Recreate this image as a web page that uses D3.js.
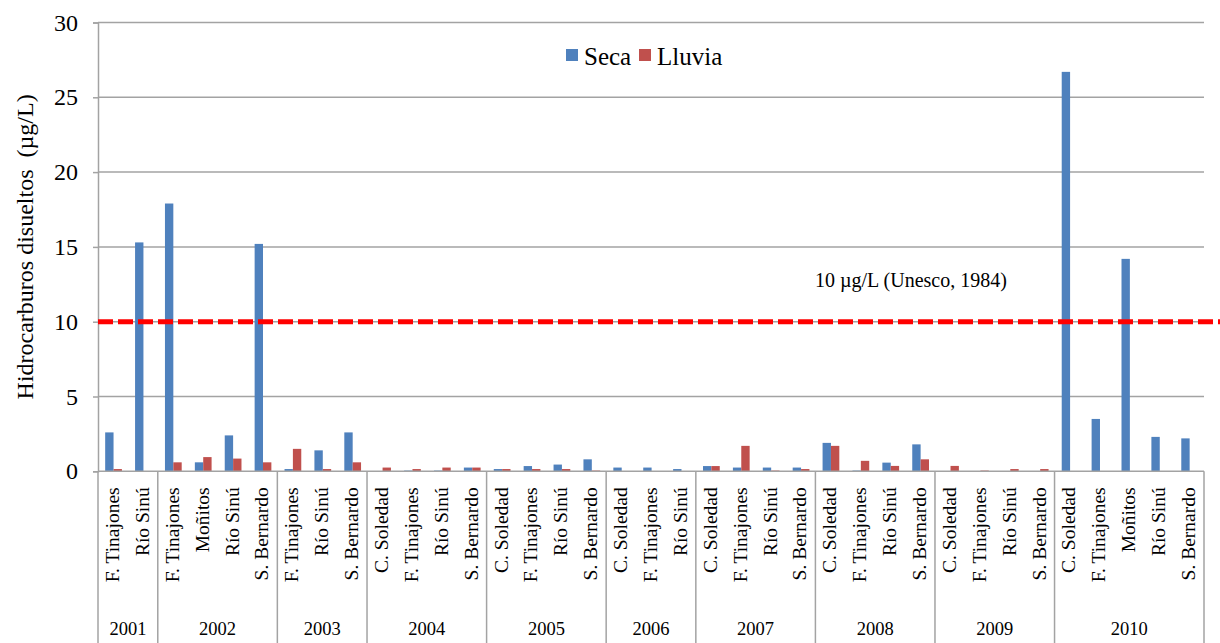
<!DOCTYPE html>
<html>
<head>
<meta charset="utf-8">
<script src="https://cdn.jsdelivr.net/npm/d3@7"></script>
<style>
  html, body { margin: 0; padding: 0; background: #fff; }
  svg text { font-family: "Liberation Serif", "Times New Roman", serif; fill: #000; }
</style>
</head>
<body>
<div id="chart"></div>
<script>
const width = 1220;
const height = 643;

const margin = {top: 22.5, left: 98, right: 16, axisBottom: 471.3};

// one entry per bar group, read left to right
const sites = [
  "F. Tinajones", "Río Sinú",
  "F. Tinajones", "Moñitos", "Río Sinú", "S. Bernardo",
  "F. Tinajones", "Río Sinú", "S. Bernardo",
  "C. Soledad", "F. Tinajones", "Río Sinú", "S. Bernardo",
  "C. Soledad", "F. Tinajones", "Río Sinú", "S. Bernardo",
  "C. Soledad", "F. Tinajones", "Río Sinú",
  "C. Soledad", "F. Tinajones", "Río Sinú", "S. Bernardo",
  "C. Soledad", "F. Tinajones", "Río Sinú", "S. Bernardo",
  "C. Soledad", "F. Tinajones", "Río Sinú", "S. Bernardo",
  "C. Soledad", "F. Tinajones", "Moñitos", "Río Sinú", "S. Bernardo"
];
const siteYears = [
  "2001", "2001",
  "2002", "2002", "2002", "2002",
  "2003", "2003", "2003",
  "2004", "2004", "2004", "2004",
  "2005", "2005", "2005", "2005",
  "2006", "2006", "2006",
  "2007", "2007", "2007", "2007",
  "2008", "2008", "2008", "2008",
  "2009", "2009", "2009", "2009",
  "2010", "2010", "2010", "2010", "2010"
];
const seca = [
  2.6, 15.3,
  17.9, 0.6, 2.4, 15.2,
  0.15, 1.4, 2.6,
  0, 0.05, 0.05, 0.25,
  0.15, 0.35, 0.45, 0.8,
  0.25, 0.25, 0.15,
  0.35, 0.25, 0.25, 0.25,
  1.9, 0.05, 0.58, 1.8,
  0, 0, 0, 0,
  26.7, 3.5, 14.2, 2.3, 2.2
];
const lluvia = [
  0.15, 0,
  0.6, 0.95, 0.85, 0.6,
  1.5, 0.15, 0.6,
  0.25, 0.15, 0.25, 0.25,
  0.15, 0.15, 0.15, 0.05,
  0, 0, 0,
  0.35, 1.7, 0.05, 0.15,
  1.7, 0.7, 0.36, 0.8,
  0.36, 0.05, 0.15, 0.15,
  0, 0, 0, 0, 0
];
const seriesNames = ["Seca", "Lluvia"];
const yTicks = [0, 5, 10, 15, 20, 25, 30];
const limitValue = 10;
const limitLabel = "10 µg/L (Unesco, 1984)";

const colors = {Seca: "#4F81BD", Lluvia: "#C0504D"};
const gridColor = "#a3a3a3";
const serif = '"Liberation Serif", "Times New Roman", serif';

const svg = d3.select("#chart")
  .append("svg")
  .attr("width", width)
  .attr("height", height);

const plotRight = width - margin.right;

const x = d3.scaleBand()
  .domain(d3.range(sites.length))
  .range([margin.left, plotRight])
  .padding(0);

const xInner = d3.scaleBand()
  .domain(seriesNames)
  .range([x.bandwidth() * 0.24, x.bandwidth() * 0.8]);

const y = d3.scaleLinear()
  .domain([0, 30])
  .range([margin.axisBottom, margin.top]);

// gridlines
svg.append("g")
  .selectAll("line")
  .data(yTicks.filter(d => d > 0))
  .enter()
  .append("line")
  .attr("x1", margin.left)
  .attr("x2", plotRight)
  .attr("y1", d => y(d))
  .attr("y2", d => y(d))
  .attr("stroke", gridColor)
  .attr("stroke-width", 1.5);

// y axis
const yAxis = svg.append("g")
  .attr("transform", `translate(${margin.left},0)`)
  .call(d3.axisLeft(y).tickValues(yTicks).tickSize(5).tickPadding(15));
yAxis.attr("font-family", null).attr("font-size", null);
yAxis.select(".domain").attr("stroke", gridColor).attr("stroke-width", 1.5);
yAxis.selectAll(".tick line").attr("stroke", gridColor).attr("stroke-width", 1.5);
yAxis.selectAll(".tick text")
  .style("font-family", serif)
  .style("font-size", "24px")
  .attr("fill", "#000");

// bars
const rows = sites.map((s, i) => ({i, Seca: seca[i], Lluvia: lluvia[i]}));

const group = svg.append("g")
  .selectAll("g")
  .data(rows)
  .enter()
  .append("g")
  .attr("transform", d => `translate(${x(d.i)},0)`);

group.selectAll("rect")
  .data(d => seriesNames.map(k => ({key: k, value: d[k]})))
  .enter()
  .append("rect")
  .attr("x", d => xInner(d.key))
  .attr("width", xInner.bandwidth())
  .attr("y", d => y(d.value))
  .attr("height", d => y(0) - y(d.value))
  .attr("fill", d => colors[d.key]);

// x baseline
svg.append("line")
  .attr("x1", margin.left)
  .attr("x2", plotRight)
  .attr("y1", y(0))
  .attr("y2", y(0))
  .attr("stroke", gridColor)
  .attr("stroke-width", 1.5);

// year separators
const yearList = Array.from(new Set(siteYears));
const yearSpans = yearList.map(yr => {
  const idx = siteYears.map((v, i) => v === yr ? i : -1).filter(i => i >= 0);
  return {year: yr, start: x(idx[0]), end: x(idx[idx.length - 1]) + x.bandwidth()};
});

const bounds = [margin.left].concat(yearSpans.map(d => d.end));
svg.append("g")
  .selectAll("line")
  .data(bounds)
  .enter()
  .append("line")
  .attr("x1", d => d)
  .attr("x2", d => d)
  .attr("y1", y(0))
  .attr("y2", height)
  .attr("stroke", gridColor)
  .attr("stroke-width", 1.5);

// category labels
svg.append("g")
  .selectAll("text")
  .data(sites)
  .enter()
  .append("text")
  .text(d => d)
  .attr("text-anchor", "end")
  .attr("transform", (d, i) => `translate(${x(i) + x.bandwidth() / 2 + 6},${y(0) + 16}) rotate(-90)`)
  .style("font-family", serif)
  .style("font-size", "19.5px");

// year labels
svg.append("g")
  .selectAll("text")
  .data(yearSpans)
  .enter()
  .append("text")
  .text(d => d.year)
  .attr("text-anchor", "middle")
  .attr("x", d => (d.start + d.end) / 2)
  .attr("y", 635)
  .style("font-family", serif)
  .style("font-size", "18.5px");

// limit line
svg.append("line")
  .attr("x1", margin.left)
  .attr("x2", width)
  .attr("y1", y(limitValue))
  .attr("y2", y(limitValue))
  .attr("stroke", "#FF0000")
  .attr("stroke-width", 5)
  .attr("stroke-dasharray", "15,5");

svg.append("text")
  .text(limitLabel)
  .attr("x", 815)
  .attr("y", 287)
  .style("font-family", serif)
  .style("font-size", "20px");

// y title
svg.append("text")
  .text("Hidrocarburos disueltos  (µg/L)")
  .attr("text-anchor", "middle")
  .attr("transform", `translate(33,${(y(0) + y(30)) / 2}) rotate(-90)`)
  .style("font-family", serif)
  .style("font-size", "24px")
  .style("white-space", "pre");

// legend
const legend = svg.append("g")
  .attr("transform", "translate(566,49)");

const legendX = [0, 73];
legend.selectAll("rect")
  .data(seriesNames)
  .enter()
  .append("rect")
  .attr("x", (d, i) => legendX[i])
  .attr("y", 0)
  .attr("width", 12)
  .attr("height", 12)
  .attr("fill", d => colors[d]);

legend.selectAll("text")
  .data(seriesNames)
  .enter()
  .append("text")
  .text(d => d)
  .attr("x", (d, i) => legendX[i] + 18)
  .attr("y", 16)
  .style("font-family", serif)
  .style("font-size", "25px");
</script>
</body>
</html>
